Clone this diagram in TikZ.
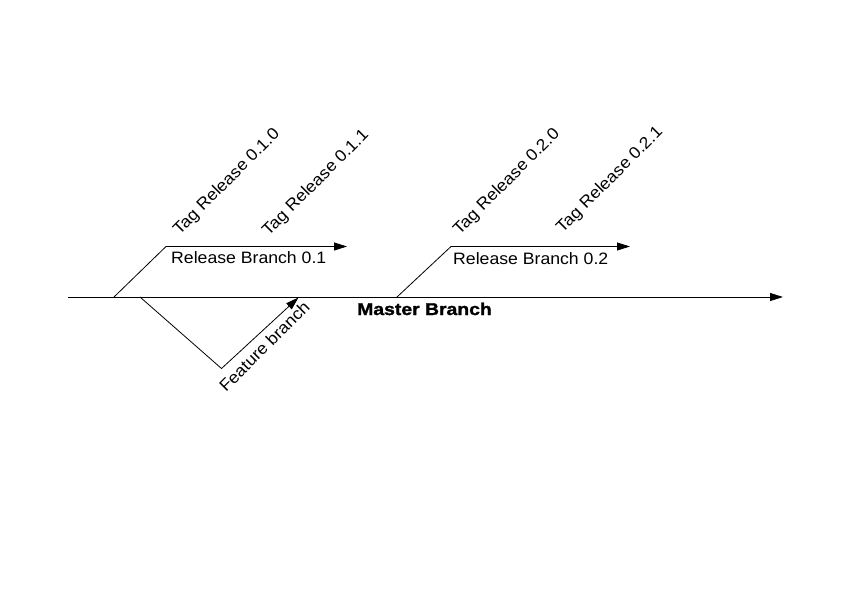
\documentclass[tikz,border=0pt]{standalone}
\usepackage{fontspec}
\setmainfont{Liberation Sans}[FakeStretch=1.07]
\newfontfamily\masterfont{Liberation Sans}[FakeStretch=1.14,FakeBold=1.5]
\usetikzlibrary{arrows.meta}

\begin{document}
\begin{tikzpicture}[x=1pt,y=-1pt,font=\fontsize{16.5}{19}\selectfont]
\tikzset{
  rama/.style={black,line width=0.8pt},
  fl/.style={rama,-{Triangle[length=13pt,width=8pt]}},
  etiq/.style={rotate=45,anchor=base west,inner sep=0pt}
}
\useasboundingbox (0,0) rectangle (842,595);
% master
\coordinate (m0) at (68,297);
\coordinate (m1) at (783,297);
\draw[fl] (m0) -- (m1);
\node[anchor=base west,inner sep=0pt,font=\masterfont\bfseries\fontsize{17}{20}\selectfont]
  (master) at (357,315) {Master Branch};
% release 0.1
\coordinate (r1a) at (114,297);
\coordinate (r1b) at (166,246.5);
\coordinate (r1c) at (347,246.5);
\draw[fl] (r1a) -- (r1b) -- (r1c);
\node[anchor=base west,inner sep=0pt] (rel1) at (171,263.5) {Release Branch 0.1};
\node[etiq] (t010) at (179.5,235.5) {Tag Release 0.1.0};
\node[etiq] (t011) at (268.5,236.5) {Tag Release 0.1.1};
% feature
\coordinate (f0) at (140,297);
\coordinate (f1) at (221.5,368.5);
\coordinate (f2) at (298.5,297.5);
\draw[fl] (f0) -- (f1) -- (f2);
\node[etiq] (feat) at (226,393) {Feature branch};
% release 0.2
\coordinate (r2a) at (397,297);
\coordinate (r2b) at (451,246.5);
\coordinate (r2c) at (630,246.5);
\draw[fl] (r2a) -- (r2b) -- (r2c);
\node[anchor=base west,inner sep=0pt] (rel2) at (453,264) {Release Branch 0.2};
\node[etiq] (t020) at (459.5,235.5) {Tag Release 0.2.0};
\node[etiq] (t021) at (562.5,233.5) {Tag Release 0.2.1};
\end{tikzpicture}
\end{document}
